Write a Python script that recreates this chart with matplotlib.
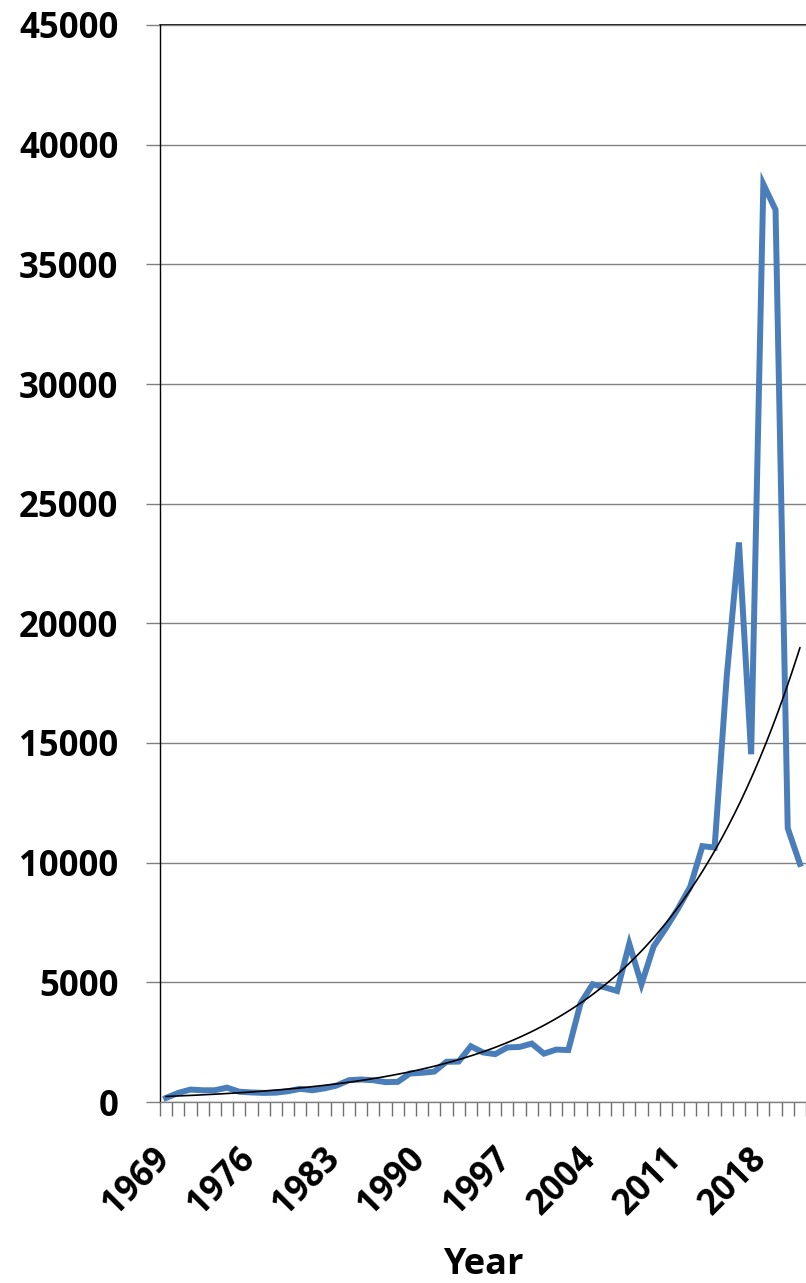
import numpy as np
import matplotlib
matplotlib.use("Agg")
import matplotlib.pyplot as plt
import matplotlib.transforms as mtransforms
from matplotlib.ticker import FixedLocator

plt.rcParams["font.family"] = ["Open Sans", "DejaVu Sans"]
plt.rcParams["font.weight"] = "bold"

# =============================================================================
# Data
# =============================================================================
years = list(range(1969, 2022))
values = [
    170, 380, 520, 490, 490, 600, 430, 400, 380, 390,       # 1969-1978
    450, 550, 490, 570, 690, 910, 940, 910, 830, 840,       # 1979-1988
    1190, 1220, 1270, 1680, 1690, 2330, 2070, 2000, 2280,   # 1989-1997
    2300, 2440, 2020, 2190, 2170, 4120, 4920, 4790, 4640,   # 1998-2006
    6610, 4920, 6500, 7260, 8080, 8990, 10690, 10630,       # 2007-2014
    17800, 23380, 14530, 38350, 37280, 11440, 9950,         # 2015-2021
]
label_years = years[::7]
y_ticks = list(range(0, 45001, 5000))

# =============================================================================
# Exponential trendline (least squares on log values, like Excel)
# =============================================================================
x_idx = np.arange(len(years))
b, ln_a = np.polyfit(x_idx + 1, np.log(values), 1)
x_fine = np.linspace(0, len(years) - 1, 300)
trend = np.exp(ln_a) * np.exp(b * (x_fine + 1))

# =============================================================================
# Plotting
# =============================================================================
W, H = 806, 1283
fig = plt.figure(figsize=(W / 100, H / 100), dpi=100)
ax = fig.add_axes([160 / W, 1 - 1102 / H, 646 / W, 1077 / H])

ax.plot(x_idx, values, color="#4A7EBB", linewidth=4.3, solid_joinstyle="miter",
        zorder=3)
ax.plot(x_fine, trend, color="black", linewidth=1.2, zorder=4)

ax.set_xlim(-0.5, len(years) - 0.5)
ax.set_ylim(0, 45000)

# y axis
ax.set_yticks(y_ticks)
ax.set_yticklabels([str(v) for v in y_ticks])
ax.grid(axis="y", color="#808080", linewidth=1.0, zorder=0)
ax.tick_params(axis="y", length=10, width=1.0, color="#808080",
               labelsize=25, pad=20)

# x axis: labels every 7 years, tick marks between categories
ax.set_xticks([years.index(y) for y in label_years])
ax.set_xticklabels([str(y) for y in label_years], rotation=45, ha="right",
                   rotation_mode="anchor")
ax.tick_params(axis="x", which="major", length=0, labelsize=25, pad=22)
ax.xaxis.set_minor_locator(FixedLocator(np.arange(-0.5, len(years), 1.0)))
ax.tick_params(axis="x", which="minor", length=10, width=1.0, color="#707070")
for lbl in ax.get_xticklabels() + ax.get_yticklabels():
    lbl.set_fontweight("bold")

ax.set_xlabel("Year", fontsize=26, fontweight="bold", va="top")
ax.xaxis.set_label_coords(0.5, -0.1346)

for side in ("top", "right"):
    ax.spines[side].set_visible(False)
ax.spines["left"].set_color("black")
ax.spines["left"].set_linewidth(1.0)
ax.spines["bottom"].set_color("#808080")
ax.spines["bottom"].set_linewidth(1.0)
ax.axhline(45000, color="black", linewidth=1.2, clip_on=False, zorder=1)

# nudge the rotated year labels so the first one sits where it does in the
# reference (box top ~1141 px from the top, right edge ~177 px)
fig.canvas.draw()
renderer = fig.canvas.get_renderer()
first = ax.get_xticklabels()[0]
bb = first.get_window_extent(renderer)
dx = 177 - bb.x1
dy = (H - 1141) - bb.y1
for lbl in ax.get_xticklabels():
    lbl.set_transform(lbl.get_transform() + mtransforms.Affine2D().translate(dx, dy))

plt.savefig("out.png", dpi=100)
